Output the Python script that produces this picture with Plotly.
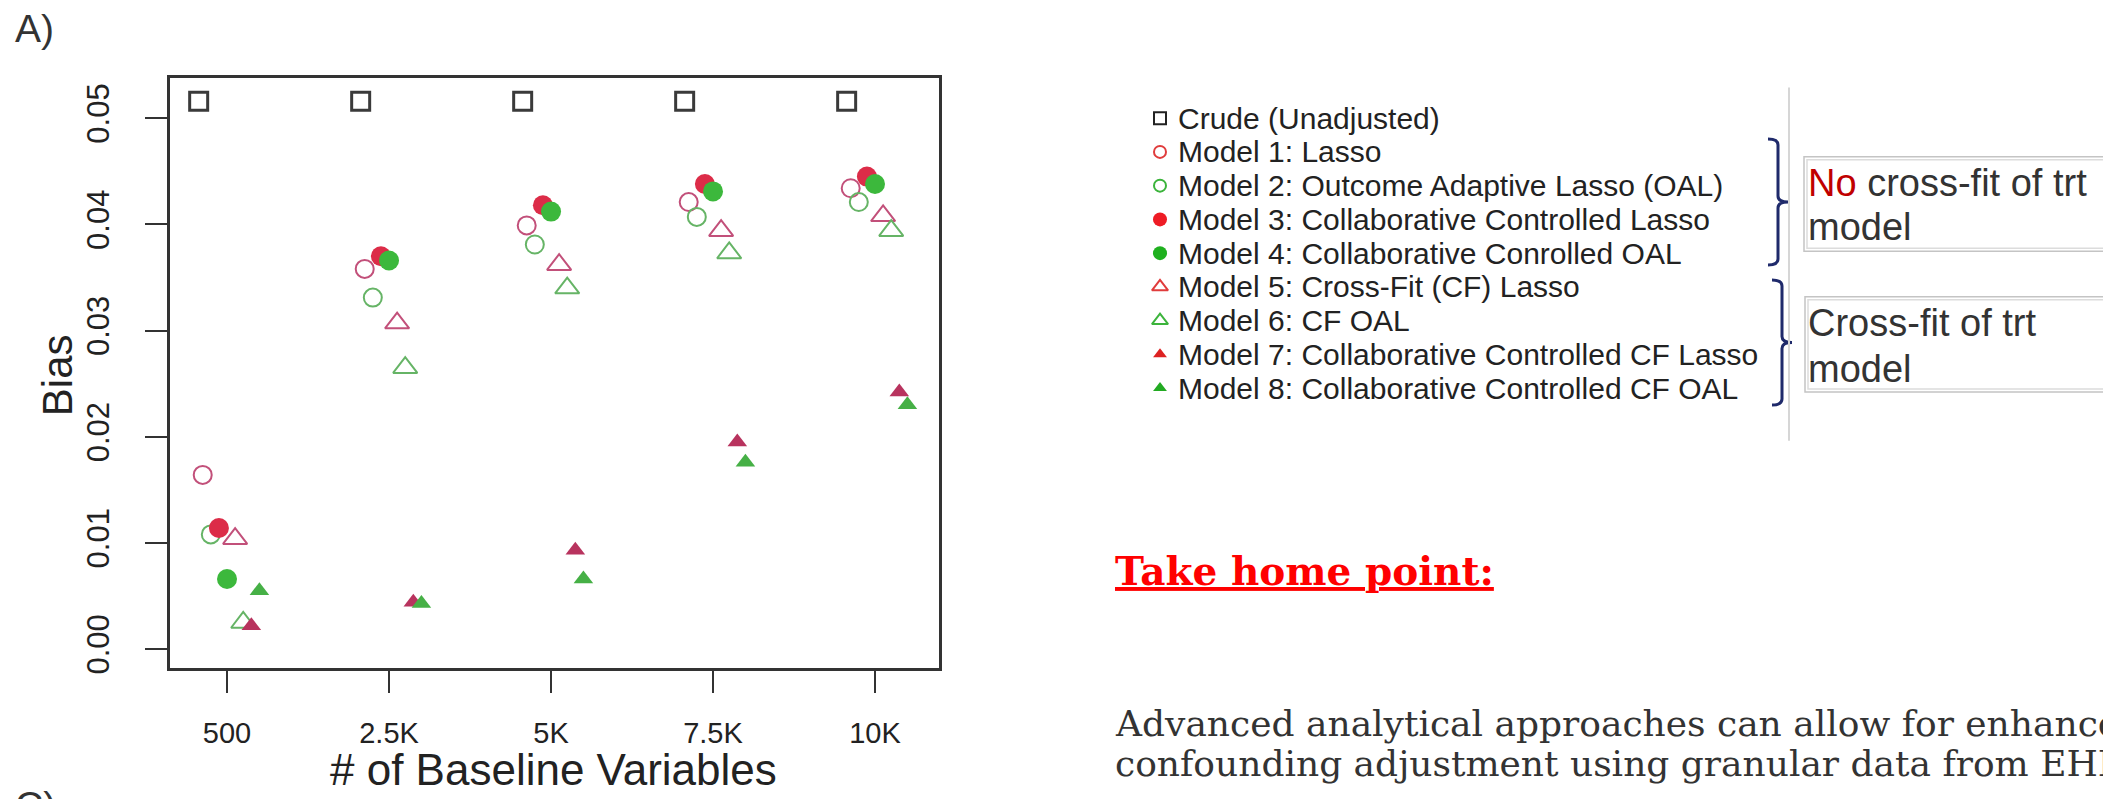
import plotly.graph_objects as go

# page is 2111x799; the html body has an 8px default margin
PAGE_W, PAGE_H = 2111, 799
OFF = 8
W, H = PAGE_W - OFF, PAGE_H - OFF

# ---------------- data ----------------
categories = ["500", "2.5K", "5K", "7.5K", "10K"]
crude  = [0.0516, 0.0516, 0.0516, 0.0516, 0.0516]
model1 = [0.0164, 0.0358, 0.0399, 0.0421, 0.0434]
model2 = [0.0108, 0.0331, 0.0381, 0.0407, 0.0421]
model3 = [0.0114, 0.0370, 0.0418, 0.0438, 0.0445]
model4 = [0.0066, 0.0366, 0.0412, 0.0431, 0.0438]
model5 = [0.0104, 0.0307, 0.0362, 0.0394, 0.0408]
model6 = [0.0025, 0.0265, 0.0340, 0.0373, 0.0394]
model7 = [0.0022, 0.0044, 0.0093, 0.0195, 0.0242]
model8 = [0.0055, 0.0043, 0.0066, 0.0176, 0.0230]

series_names = [
    "Crude (Unadjusted)",
    "Model 1: Lasso",
    "Model 2: Outcome Adaptive Lasso (OAL)",
    "Model 3: Collaborative Controlled Lasso",
    "Model 4: Collaborative Conrolled OAL",
    "Model 5: Cross-Fit (CF) Lasso",
    "Model 6: CF OAL",
    "Model 7: Collaborative Controlled CF Lasso",
    "Model 8: Collaborative Controlled CF OAL",
]
series_values = [crude, model1, model2, model3, model4, model5, model6, model7, model8]
y_ticks = [0.00, 0.01, 0.02, 0.03, 0.04, 0.05]

# ---------------- styles ----------------
RED_O = "#c2507a"
GRN_O = "#66b466"
styles = [
    dict(symbol="square-open", size=18, color="#3a3a3a", lw=3),
    dict(symbol="circle-open", size=18, color=RED_O, lw=2),
    dict(symbol="circle-open", size=18, color=GRN_O, lw=2),
    dict(symbol="circle", size=20, color="#dc2c48", lw=0),
    dict(symbol="circle", size=20, color="#3cb83c", lw=0),
    dict(symbol="triangle-up-open", size=21, color=RED_O, lw=2),
    dict(symbol="triangle-up-open", size=21, color=GRN_O, lw=2),
    dict(symbol="triangle-up", size=17, color="#b8335e", lw=0),
    dict(symbol="triangle-up", size=17, color="#46b046", lw=0),
]
legend_styles = [
    dict(symbol="square-open", size=12, color="#222222", lw=2),
    dict(symbol="circle-open", size=12, color="#e03c3c", lw=2),
    dict(symbol="circle-open", size=12, color="#3cb43c", lw=2),
    dict(symbol="circle", size=14, color="#ee1c25", lw=0),
    dict(symbol="circle", size=14, color="#1fb01f", lw=0),
    dict(symbol="triangle-up-open", size=14, color="#e03c3c", lw=2),
    dict(symbol="triangle-up-open", size=14, color="#3cb43c", lw=2),
    dict(symbol="triangle-up", size=12, color="#dd2222", lw=0),
    dict(symbol="triangle-up", size=12, color="#22aa22", lw=0),
]
# horizontal dodge of each series within a category
dodge = [-0.175, -0.15, -0.10, -0.05, 0.0, 0.05, 0.10, 0.15, 0.20]

SANS = "Liberation Sans, Arial, sans-serif"
SERIF = "DejaVu Serif, Georgia, serif"
TXT = "#222222"


def fx(px):
    return (px - OFF) / W


def fy(py):
    return 1 - (py - OFF) / H


fig = go.Figure()

# main scatter
for name, vals, st, dx in zip(series_names, series_values, styles, dodge):
    fig.add_trace(go.Scatter(
        x=[i + 1 + dx for i in range(len(categories))],
        y=vals,
        mode="markers",
        name=name,
        marker=dict(symbol=st["symbol"], size=st["size"], color=st["color"],
                    line=dict(width=st["lw"], color=st["color"])),
        xaxis="x", yaxis="y",
        showlegend=False,
        hovertemplate=name + "<br>%{y:.4f}<extra></extra>",
    ))

# custom legend swatches (own axes)
for i, (name, st) in enumerate(zip(series_names, legend_styles)):
    fig.add_trace(go.Scatter(
        x=[0], y=[i], mode="markers", name=name,
        marker=dict(symbol=st["symbol"], size=st["size"], color=st["color"],
                    line=dict(width=st["lw"], color=st["color"])),
        xaxis="x2", yaxis="y2", showlegend=False, hoverinfo="skip",
    ))

ROW0, ROWH = 119, 34
annotations = []
for i, name in enumerate(series_names):
    annotations.append(dict(
        x=fx(1176), y=fy(ROW0 + ROWH * i), xref="paper", yref="paper",
        text=name, showarrow=False, xanchor="left", yanchor="middle",
        font=dict(family=SANS, size=30, color=TXT),
    ))

# panel labels and axis titles
annotations += [
    dict(x=fx(13), y=fy(29), xref="paper", yref="paper", text="A)", showarrow=False,
         xanchor="left", yanchor="middle", font=dict(family=SANS, size=39, color="#333")),
    dict(x=fx(13), y=fy(788), xref="paper", yref="paper", text="C)", showarrow=False,
         xanchor="left", yanchor="top", font=dict(family=SANS, size=39, color="#333")),
    dict(x=fx(57), y=fy(378), xref="paper", yref="paper", text="Bias", showarrow=False,
         textangle=-90, xanchor="center", yanchor="middle",
         font=dict(family=SANS, size=42, color=TXT)),
    dict(x=fx(553), y=fy(775), xref="paper", yref="paper", text="# of Baseline Variables",
         showarrow=False, xanchor="center", yanchor="middle",
         font=dict(family=SANS, size=44, color=TXT)),
]

# boxes text
BOXF = dict(family=SANS, size=38, color="#333333")
annotations += [
    dict(x=fx(1806), y=fy(184), xref="paper", yref="paper",
         text="<span style='color:#c00000'>No</span> cross-fit of trt",
         showarrow=False, xanchor="left", yanchor="middle", font=BOXF),
    dict(x=fx(1806), y=fy(229), xref="paper", yref="paper", text="model",
         showarrow=False, xanchor="left", yanchor="middle", font=BOXF),
    dict(x=fx(1806), y=fy(325), xref="paper", yref="paper", text="Cross-fit of trt",
         showarrow=False, xanchor="left", yanchor="middle", font=BOXF),
    dict(x=fx(1806), y=fy(372), xref="paper", yref="paper", text="model",
         showarrow=False, xanchor="left", yanchor="middle", font=BOXF),
]

# take home text
annotations += [
    dict(x=fx(1113), y=fy(575), xref="paper", yref="paper",
         text="<b><u>Take home point:</u></b>", showarrow=False,
         xanchor="left", yanchor="middle",
         font=dict(family=SERIF, size=39, color="#ff0000")),
    dict(x=fx(1113), y=fy(729), xref="paper", yref="paper",
         text="Advanced analytical approaches can allow for enhanced",
         showarrow=False, xanchor="left", yanchor="middle",
         font=dict(family=SERIF, size=36, color="#333333")),
    dict(x=fx(1113), y=fy(769), xref="paper", yref="paper",
         text="confounding adjustment using granular data from EHR",
         showarrow=False, xanchor="left", yanchor="middle",
         font=dict(family=SERIF, size=36, color="#333333")),
]


def brace(xv, top, bot, hook=10, tip=10, r=6):
    mid = (top + bot) / 2
    pts = [
        f"M {fx(xv - hook)},{fy(top)}",
        f"Q {fx(xv)},{fy(top)} {fx(xv)},{fy(top + r)}",
        f"L {fx(xv)},{fy(mid - r)}",
        f"Q {fx(xv)},{fy(mid)} {fx(xv + tip)},{fy(mid)}",
        f"Q {fx(xv)},{fy(mid)} {fx(xv)},{fy(mid + r)}",
        f"L {fx(xv)},{fy(bot - r)}",
        f"Q {fx(xv)},{fy(bot)} {fx(xv - hook)},{fy(bot)}",
    ]
    return " ".join(pts)


NAVY = "#1f2a6b"
shapes = [
    dict(type="path", xref="paper", yref="paper", path=brace(1778, 140, 267),
         line=dict(color=NAVY, width=3)),
    dict(type="path", xref="paper", yref="paper", path=brace(1782, 282, 408),
         line=dict(color=NAVY, width=3)),
    dict(type="line", xref="paper", yref="paper", x0=fx(1789), x1=fx(1789),
         y0=fy(88), y1=fy(444), line=dict(color="#d6d6d6", width=2)),
]
for (l, t, b) in [(1804, 158, 253), (1805, 299, 395)]:
    shapes.append(dict(type="rect", xref="paper", yref="paper", x0=fx(l), x1=fx(2130),
                       y0=fy(b), y1=fy(t), line=dict(color="#c4c4c4", width=1.5)))
    shapes.append(dict(type="rect", xref="paper", yref="paper", x0=fx(l + 3), x1=fx(2130),
                       y0=fy(b - 3), y1=fy(t + 3), line=dict(color="#dcdcdc", width=1.5)))

AX = "#333333"
fig.update_layout(
    width=W, height=H,
    margin=dict(l=0, r=0, t=0, b=0),
    paper_bgcolor="white", plot_bgcolor="white",
    showlegend=False,
    xaxis=dict(domain=[fx(170), fx(939)], range=[0.648, 5.395],
               tickmode="array", tickvals=[i + 1 for i in range(len(categories))],
               ticktext=categories, showline=True, mirror=True, linecolor=AX,
               linewidth=3, ticks="outside", ticklen=22, tickwidth=2, tickcolor=AX,
               showgrid=False, zeroline=False, ticklabelstandoff=15,
               tickfont=dict(family=SANS, size=29, color=TXT), anchor="y"),
    yaxis=dict(domain=[fy(673), fy(79)], range=[-0.00178, 0.05374],
               tickmode="array", tickvals=y_ticks,
               ticktext=[f"{v:.2f}" for v in y_ticks], tickangle=-90,
               showline=True, mirror=True, linecolor=AX, linewidth=3,
               ticks="outside", ticklen=22, tickwidth=2, tickcolor=AX,
               showgrid=False, zeroline=False, ticklabelstandoff=24,
               tickfont=dict(family=SANS, size=31, color=TXT), anchor="x"),
    xaxis2=dict(domain=[fx(1140), fx(1180)], range=[-1, 1], visible=False,
                anchor="y2", fixedrange=True),
    yaxis2=dict(domain=[fy(ROW0 + ROWH * 8.5), fy(ROW0 - ROWH * 0.5)],
                range=[8.5, -0.5], visible=False, anchor="x2", fixedrange=True),
    annotations=annotations,
    shapes=shapes,
)

fig.write_html("out.html")
